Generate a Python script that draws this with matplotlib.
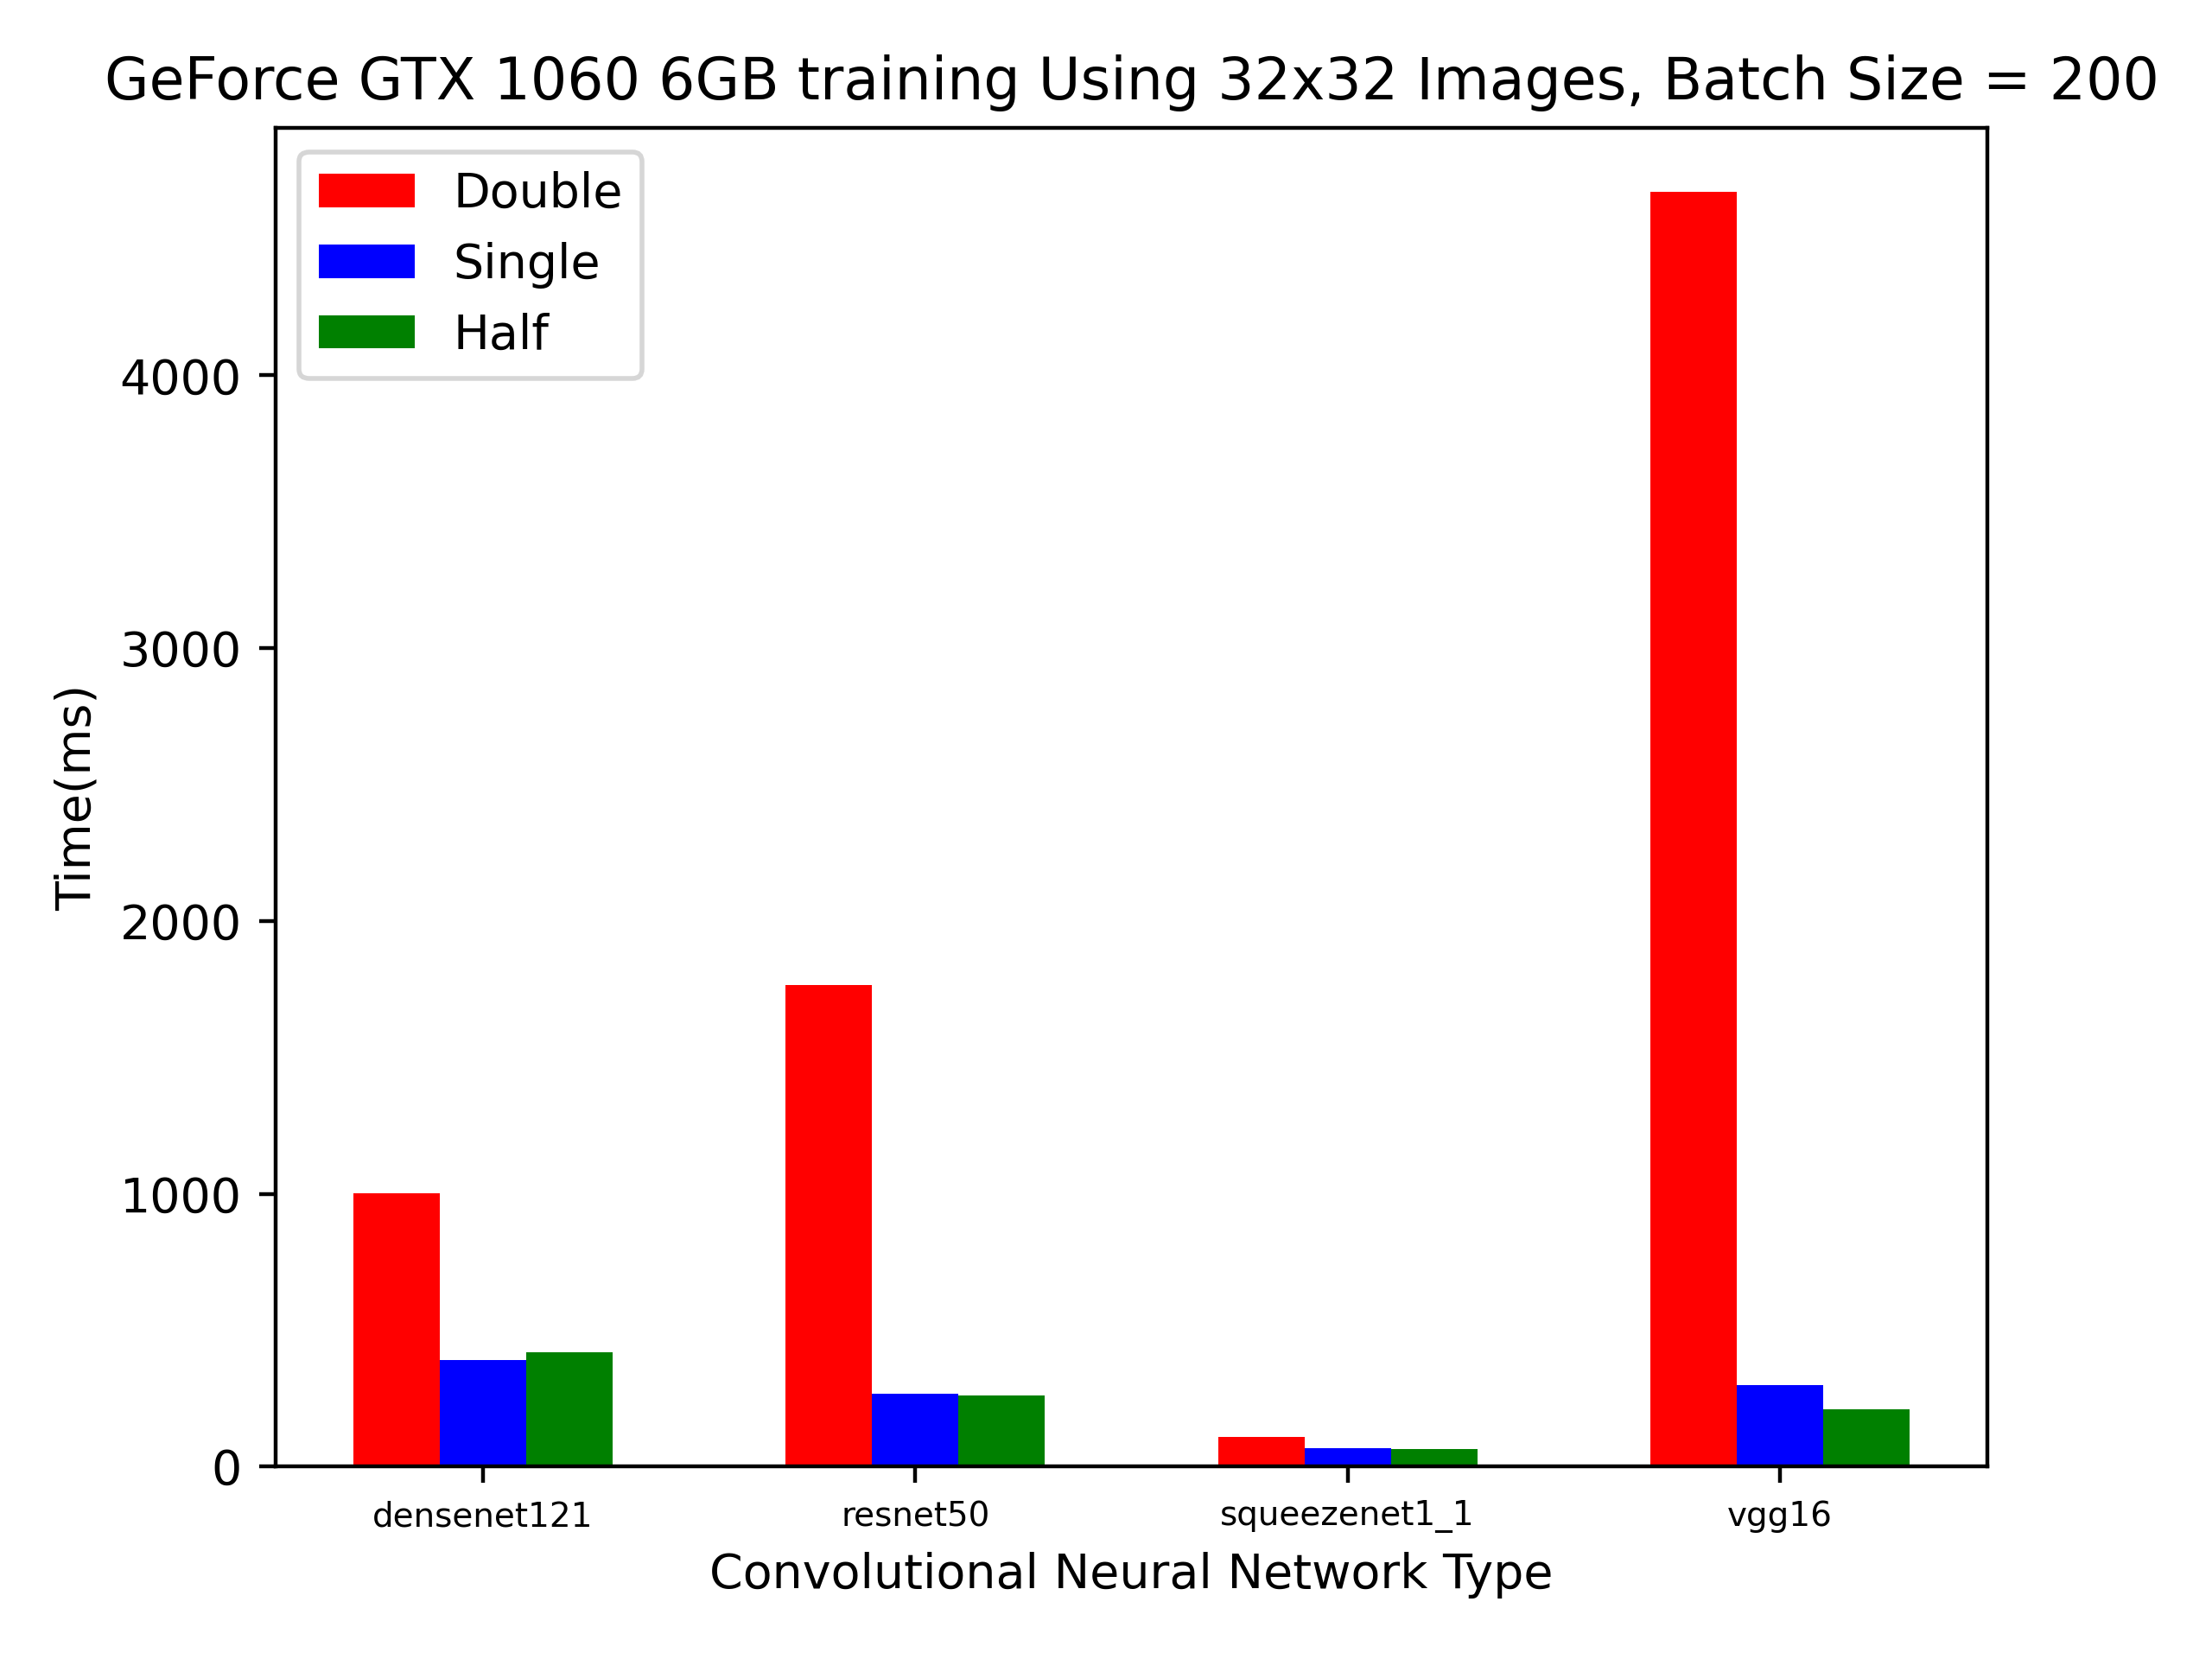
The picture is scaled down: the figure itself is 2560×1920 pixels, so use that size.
import numpy as np
import matplotlib
matplotlib.use('Agg')
import matplotlib.pyplot as plt

# values (ms)
networks = ['densenet121', 'resnet50', 'squeezenet1_1', 'vgg16']
double_ms = [1002, 1764, 109, 4674]
single_ms = [391, 267, 68, 299]
half_ms = [419, 262, 64, 210]


def main():
    x = np.arange(len(networks))
    width = 0.2

    fig, ax = plt.subplots(figsize=(6.4, 4.8), dpi=400)
    fig.subplots_adjust(left=0.1245, right=0.8985, top=0.923, bottom=0.116)

    ax.bar(x - width, double_ms, width, color='red', label='Double')
    ax.bar(x, single_ms, width, color='blue', label='Single')
    ax.bar(x + width, half_ms, width, color='green', label='Half')

    ax.set_xticks(x)
    ax.set_xticklabels(networks, fontsize=7)
    ax.set_title('GeForce GTX 1060 6GB training Using 32x32 Images, Batch Size = 200')
    ax.set_xlabel('Convolutional Neural Network Type')
    ax.set_ylabel('Time(ms)')
    ax.legend(loc='upper left')

    fig.savefig('out.png')


if __name__ == "__main__":
    main()
